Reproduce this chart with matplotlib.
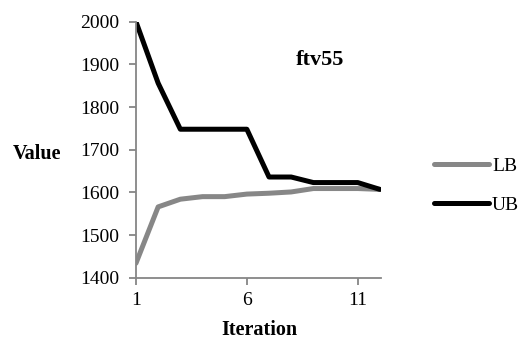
import matplotlib
matplotlib.use("Agg")
import matplotlib.pyplot as plt

iterations = list(range(1, 13))
lb = [1434, 1566, 1584, 1590, 1590, 1596, 1598, 1601, 1609, 1609, 1609, 1607]
ub = [2000, 1856, 1748, 1748, 1748, 1748, 1636, 1636, 1623, 1623, 1623, 1607]
xticks = [1, 6, 11]
yticks = [1400, 1500, 1600, 1700, 1800, 1900, 2000]

plt.rcParams['font.family'] = ['Liberation Serif', 'DejaVu Serif']
fig = plt.figure(figsize=(5.2, 3.42), dpi=100)
ax = fig.add_axes([0.2615, 0.188, 0.4712, 0.7485])

ax.plot(iterations, lb, color='#878787', lw=3.6, label='LB', solid_capstyle='round')
ax.plot(iterations, ub, color='#000000', lw=3.6, label='UB', solid_capstyle='round')

ax.set_xlim(1, 12.05)
ax.set_ylim(1400, 2000)
ax.set_xticks(xticks)
ax.set_yticks(yticks)
for s in ['top', 'right']:
    ax.spines[s].set_visible(False)
for s in ['left', 'bottom']:
    ax.spines[s].set_color('#868686')
    ax.spines[s].set_linewidth(1.3)
ax.tick_params(axis='both', direction='out', length=5, width=1.3, color='#868686',
               labelsize=14, pad=7)
ax.tick_params(axis='x', pad=5)

ax.text(0.751, 0.852, 'ftv55', transform=ax.transAxes, ha='center', va='center',
        fontsize=16, fontweight='bold')
fig.text(0.071, 0.551, 'Value', ha='center', va='center', fontsize=14.5, fontweight='bold')
fig.text(0.498, 0.035, 'Iteration', ha='center', va='center', fontsize=14.5, fontweight='bold')

fig.legend(loc='center left', bbox_to_anchor=(0.8346, 0.458), frameon=False,
           fontsize=14, handlelength=2.83, handletextpad=0.15, labelspacing=1.1,
           borderaxespad=0, borderpad=0)

fig.savefig('out.png', dpi=100)
